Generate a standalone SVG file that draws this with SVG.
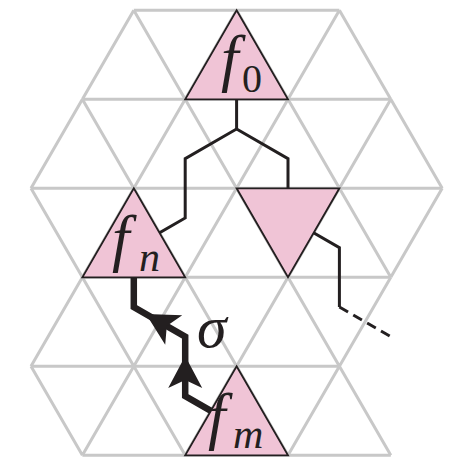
<svg xmlns="http://www.w3.org/2000/svg" width="466" height="471" viewBox="0 0 466 471">
<style>
.grid{fill:none;stroke:#c8c8c8;stroke-width:3;stroke-linecap:butt}
.node{fill:#f0c4d6;stroke:#231f20;stroke-width:1.8;stroke-linejoin:miter}
.wire{fill:none;stroke:#231f20;stroke-width:3;stroke-linejoin:miter}
.thick{fill:none;stroke:#231f20;stroke-width:6.5;stroke-linejoin:miter}
.dash{fill:none;stroke:#231f20;stroke-width:3;stroke-dasharray:10 6}
.m{font-family:"Liberation Serif","DejaVu Serif",serif;font-style:italic;fill:#231f20}
.r{font-family:"Liberation Serif","DejaVu Serif",serif;fill:#231f20}
</style>
<defs>
<path id="ah" d="M0 0 L-32 -17 L-24 0 L-32 17 Z" fill="#231f20"/>
</defs>
<g id="grid" class="grid">
<path d="M133.8 10.3H339.4M82.4 99.3H390.8M31 188.3H442.2M82.4 277.3H390.8M31 366.3H339.4M82.4 455.3H390.8"/>
<path d="M133.8 10.3L82.4 99.3M133.8 10.3L185.2 99.3M236.6 10.3L185.2 99.3M236.6 10.3L288 99.3M339.4 10.3L288 99.3M339.4 10.3L390.8 99.3"/>
<path d="M82.4 99.3L31 188.3M82.4 99.3L133.8 188.3M185.2 99.3L133.8 188.3M185.2 99.3L236.6 188.3M288 99.3L236.6 188.3M288 99.3L339.4 188.3M390.8 99.3L339.4 188.3M390.8 99.3L442.2 188.3"/>
<path d="M31 188.3L82.4 277.3M133.8 188.3L82.4 277.3M133.8 188.3L185.2 277.3M236.6 188.3L185.2 277.3M236.6 188.3L288 277.3M339.4 188.3L288 277.3M339.4 188.3L390.8 277.3M442.2 188.3L390.8 277.3"/>
<path d="M82.4 277.3L31 366.3M82.4 277.3L133.8 366.3M185.2 277.3L133.8 366.3M185.2 277.3L236.6 366.3M288 277.3L236.6 366.3M288 277.3L339.4 366.3M390.8 277.3L339.4 366.3"/>
<path d="M31 366.3L82.4 455.3M133.8 366.3L82.4 455.3M133.8 366.3L185.2 455.3M236.6 366.3L185.2 455.3M236.6 366.3L288 455.3M339.4 366.3L288 455.3M339.4 366.3L390.8 455.3"/>
</g>
<g id="connectors">
<path class="wire" d="M236.6 99.3V129L185.2 158.6V218L133.8 247.6"/>
<path class="wire" d="M236.6 129L288 158.6V218"/>
<path class="wire" d="M288 218L339.4 247.6V307"/>
<path class="dash" d="M339.4 307L390.8 336.6"/>
<path class="thick" d="M133.8 247.6V307L185.2 336.6V396L236.6 425.6"/>
<use href="#ah" transform="translate(185.2 356) rotate(-90)"/>
<use href="#ah" transform="translate(146 314) rotate(-150)"/>
<text class="m" x="197" y="347" font-size="60">σ</text>
</g>
<g id="f0">
<path class="node" d="M236.6 10.3L288 99.3L185.2 99.3Z"/>
<text class="m" x="221" y="79" font-size="63">f</text>
<text class="r" x="242" y="92" font-size="40">0</text>
</g>
<g id="fn">
<path class="node" d="M133.8 188.3L185.2 277.3L82.4 277.3Z"/>
<text class="m" x="112" y="259" font-size="63">f</text>
<text class="m" x="139" y="271" font-size="42">n</text>
</g>
<g id="tri">
<path class="node" d="M236.6 188.3L339.4 188.3L288 277.3Z"/>
</g>
<g id="fm">
<path class="node" d="M236.6 366.3L288 455.3L185.2 455.3Z"/>
<text class="m" x="208" y="437" font-size="63">f</text>
<text class="m" x="233" y="448" font-size="42">m</text>
</g>
</svg>
